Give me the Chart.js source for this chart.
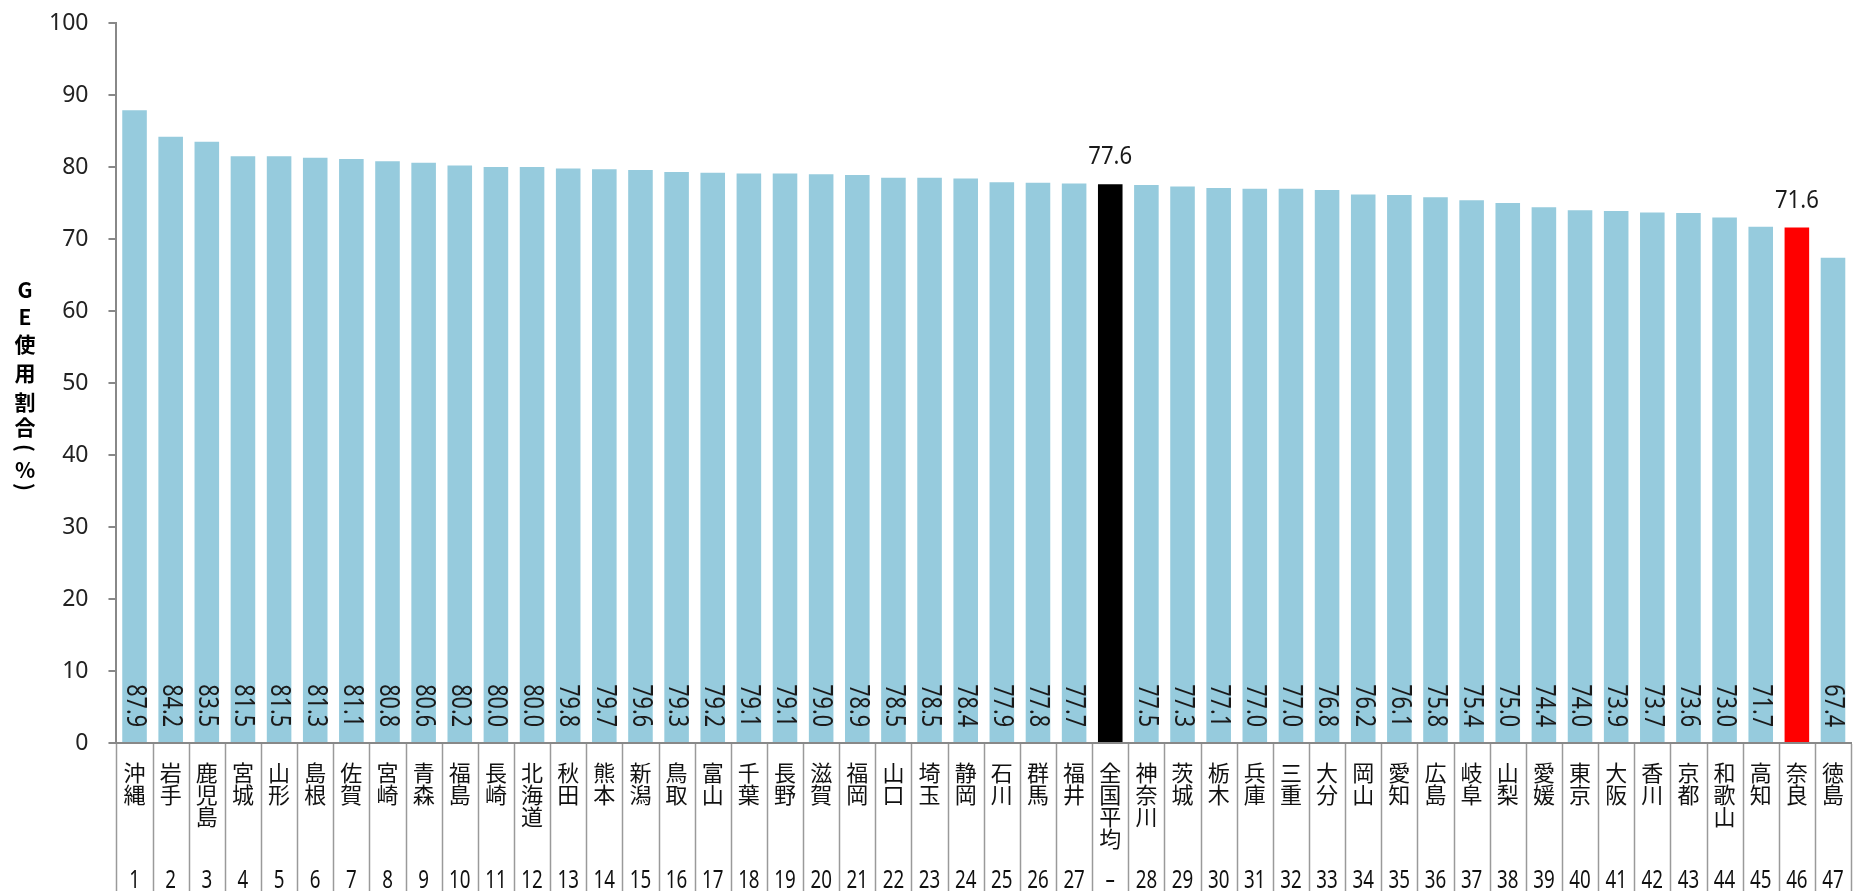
<!DOCTYPE html>
<html lang="ja">
<head>
<meta charset="UTF-8">
<title>GE使用割合</title>
<script src="https://cdn.jsdelivr.net/npm/chart.js"></script>
<style>
    html, body { margin: 0; padding: 0; background: #fff; }
    #wrap { width: 1862px; height: 891px; }
</style>
</head>
<body>
<div id="wrap"><canvas id="geChart" width="1862" height="891"></canvas></div>
<script>
// 都道府県名（並び順はグラフ通り）
const prefs = ['沖縄','岩手','鹿児島','宮城','山形','島根','佐賀','宮崎','青森','福島',
    '長崎','北海道','秋田','熊本','新潟','鳥取','富山','千葉','長野','滋賀',
    '福岡','山口','埼玉','静岡','石川','群馬','福井','全国平均','神奈川','茨城',
    '栃木','兵庫','三重','大分','岡山','愛知','広島','岐阜','山梨','愛媛',
    '東京','大阪','香川','京都','和歌山','高知','奈良','徳島'];
// 順位
const ranks = ['1','2','3','4','5','6','7','8','9','10',
    '11','12','13','14','15','16','17','18','19','20',
    '21','22','23','24','25','26','27','–','28','29',
    '30','31','32','33','34','35','36','37','38','39',
    '40','41','42','43','44','45','46','47'];
// GE使用割合(%)
const geRates = [87.9,84.2,83.5,81.5,81.5,81.3,81.1,80.8,80.6,80.2,
    80.0,80.0,79.8,79.7,79.6,79.3,79.2,79.1,79.1,79.0,
    78.9,78.5,78.5,78.4,77.9,77.8,77.7,77.6,77.5,77.3,
    77.1,77.0,77.0,76.8,76.2,76.1,75.8,75.4,75.0,74.4,
    74.0,73.9,73.7,73.6,73.0,71.7,71.6,67.4];
const avgName = '全国平均';
const naraName = '奈良';

const numFont = "'Noto Sans', sans-serif";

const barColors = prefs.map(p => p === avgName ? '#000000' : (p === naraName ? '#ff0000' : '#96cbdd'));

// 縦書きラベル: 1文字ずつ改行
const labels = prefs.map(p => p.split(''));

// 横方向に詰めた数字を描く
function drawNarrow(ctx, text, x, y, sx, angle, align) {
    ctx.save();
    ctx.translate(x, y);
    if (angle) ctx.rotate(angle);
    ctx.scale(sx, 1);
    ctx.textAlign = align;
    ctx.fillText(text, 0, 0);
    ctx.restore();
}

// カテゴリ区切り線と順位（軸の下側）
const dividerPlugin = {
    id: 'dividerPlugin',
    afterDraw(chart) {
        const ctx = chart.ctx;
        const x = chart.scales.x;
        const top = chart.chartArea.bottom;
        const half = (x.getPixelForValue(1) - x.getPixelForValue(0)) / 2;
        ctx.save();
        ctx.strokeStyle = '#9a9a9a';
        ctx.lineWidth = 1.5;
        ctx.beginPath();
        for (let i = 0; i <= prefs.length; i++) {
            const px = Math.round(x.getPixelForValue(i) - half) + 0.5;
            ctx.moveTo(px, top + 1);
            ctx.lineTo(px, chart.height);
        }
        ctx.stroke();
        ctx.fillStyle = '#111';
        ctx.font = "25px " + numFont;
        ctx.textBaseline = 'middle';
        ranks.forEach((r, i) => drawNarrow(ctx, r, x.getPixelForValue(i), 881, 0.75, 0, 'center'));
        ctx.restore();
    }
};

const valuePlugin = {
    id: 'valuePlugin',
    afterDatasetsDraw(chart) {
        const ctx = chart.ctx;
        const meta = chart.getDatasetMeta(0);
        const base = chart.scales.y.getPixelForValue(0);
        ctx.save();
        ctx.fillStyle = '#1a1a1a';
        meta.data.forEach((bar, i) => {
            const txt = geRates[i].toFixed(1);
            if (prefs[i] === avgName || prefs[i] === naraName) {
                ctx.font = "26px " + numFont;
                ctx.textBaseline = 'alphabetic';
                drawNarrow(ctx, txt, bar.x, bar.y - 20, 0.85, 0, 'center');
            } else {
                ctx.font = "27px " + numFont;
                ctx.textBaseline = 'middle';
                drawNarrow(ctx, txt, bar.x, base - 16, 0.8, Math.PI / 2, 'right');
            }
        });
        ctx.restore();
    }
};

// 縦書きの軸タイトル
const titlePlugin = {
    id: 'titlePlugin',
    afterDraw(chart) {
        const ctx = chart.ctx;
        const chars = ['G','E','使','用','割','合','(','%',')'];
        const steps = [0, 27, 27, 29, 29, 25, 21, 22, 17];
        ctx.save();
        ctx.fillStyle = '#000';
        ctx.font = "bold 21px 'Noto Sans CJK JP', sans-serif";
        ctx.textAlign = 'center';
        ctx.textBaseline = 'middle';
        let y = 290;
        chars.forEach((c, i) => {
            y += steps[i];
            if (c === '(' || c === ')') {
                ctx.save();
                ctx.translate(25, y);
                ctx.rotate(Math.PI / 2);
                ctx.fillText(c, 0, 0);
                ctx.restore();
            } else {
                ctx.fillText(c, 25, y);
            }
        });
        ctx.restore();
    }
};

new Chart(document.getElementById('geChart').getContext('2d'), {
    type: 'bar',
    data: {
        labels: labels,
        datasets: [{
            data: geRates,
            backgroundColor: barColors,
            borderWidth: 0,
            barPercentage: 0.68,
            categoryPercentage: 1.0
        }]
    },
    options: {
        responsive: false,
        animation: false,
        layout: { padding: { left: 29, top: 23, right: 0, bottom: 23 } },
        plugins: {
            legend: { display: false },
            tooltip: { enabled: false }
        },
        scales: {
            x: {
                afterFit(scale) { scale.paddingTop = 0; },
                grid: {
                    offset: true,
                    drawOnChartArea: false,
                    drawTicks: false
                },
                border: { display: true, color: '#888', width: 2 },
                ticks: {
                    autoSkip: false,
                    maxRotation: 0,
                    minRotation: 0,
                    padding: 18,
                    color: '#111',
                    font: { family: "'Noto Sans CJK JP', sans-serif", size: 22, lineHeight: 1.01 }
                }
            },
            y: {
                min: 0,
                max: 100,
                afterFit(scale) { scale.paddingTop = 0; },
                grid: {
                    drawOnChartArea: false,
                    drawTicks: true,
                    tickLength: 8,
                    color: '#888',
                    lineWidth: 2
                },
                border: { display: true, color: '#888', width: 2 },
                ticks: {
                    stepSize: 10,
                    padding: 20,
                    color: '#222',
                    font: { family: numFont, size: 23 }
                }
            }
        }
    },
    plugins: [dividerPlugin, valuePlugin, titlePlugin]
});
</script>
</body>
</html>
